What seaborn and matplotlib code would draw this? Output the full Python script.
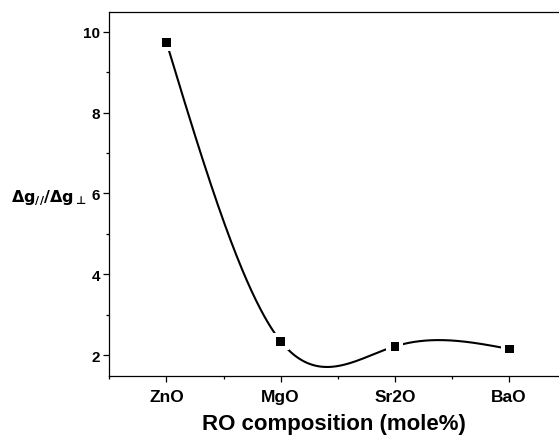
import numpy as np
import matplotlib
matplotlib.use("Agg")
import matplotlib.pyplot as plt
import seaborn as sns
from matplotlib.ticker import MultipleLocator

# data
compositions = ["ZnO", "MgO", "Sr2O", "BaO"]
g_ratio = [9.745, 2.34, 2.215, 2.15]


def natural_spline(x, y, n=300):
    # natural cubic spline through the points (like Origin's spline connect)
    x = np.asarray(x, float)
    y = np.asarray(y, float)
    k = len(x)
    h = np.diff(x)
    A = np.zeros((k, k))
    b = np.zeros(k)
    A[0, 0] = A[-1, -1] = 1
    for i in range(1, k - 1):
        A[i, i - 1] = h[i - 1]
        A[i, i] = 2 * (h[i - 1] + h[i])
        A[i, i + 1] = h[i]
        b[i] = 6 * ((y[i + 1] - y[i]) / h[i] - (y[i] - y[i - 1]) / h[i - 1])
    M = np.linalg.solve(A, b)
    xs = np.linspace(x[0], x[-1], n)
    idx = np.clip(np.searchsorted(x, xs) - 1, 0, k - 2)
    x0, x1 = x[idx], x[idx + 1]
    hh = x1 - x0
    ys = (M[idx] * (x1 - xs) ** 3 / (6 * hh) + M[idx + 1] * (xs - x0) ** 3 / (6 * hh)
          + (y[idx] - M[idx] * hh ** 2 / 6) * (x1 - xs) / hh
          + (y[idx + 1] - M[idx + 1] * hh ** 2 / 6) * (xs - x0) / hh)
    return xs, ys


sns.set_theme(style="ticks")
plt.rcParams['font.family'] = ['Liberation Sans', 'DejaVu Sans']
plt.rcParams['font.weight'] = 'bold'
plt.rcParams['text.color'] = 'black'
plt.rcParams['axes.labelcolor'] = 'black'
plt.rcParams['xtick.color'] = 'black'
plt.rcParams['ytick.color'] = 'black'
plt.rcParams['mathtext.fontset'] = 'dejavusans'

fig = plt.figure(figsize=(5.59, 4.39), dpi=100)
ax = fig.add_axes([0.1955, 0.1412, 0.8045, 0.8299])

pos = np.arange(1, len(compositions) + 1)
xs, ys = natural_spline(pos, g_ratio)

sns.lineplot(x=xs, y=ys, ax=ax, color="black", linewidth=1.5, sort=False)
# white halo so the curve stops short of each symbol
sns.scatterplot(x=pos, y=g_ratio, ax=ax, marker="s", s=150, color="white",
                edgecolor="none", zorder=3)
sns.scatterplot(x=pos, y=g_ratio, ax=ax, marker="s", s=40, color="black",
                edgecolor="none", zorder=4)

ax.set_xlim(0.5, 4.436)
ax.set_ylim(1.48, 10.5)
ax.set_xticks(pos)
ax.set_xticklabels(compositions, fontsize=12.5, fontweight="bold")
ax.xaxis.set_minor_locator(MultipleLocator(0.5))
ax.yaxis.set_major_locator(MultipleLocator(2))
ax.yaxis.set_minor_locator(MultipleLocator(1))
for lab in ax.get_yticklabels():
    lab.set_fontsize(11)
    lab.set_fontweight("bold")

ax.tick_params(axis="both", which="major", direction="out", length=4.5, width=0.9,
               color="black", pad=2)
ax.tick_params(axis="both", which="minor", direction="out", length=2.5, width=0.9,
               color="black")
ax.tick_params(axis="x", which="major", pad=5)

for side in ["left", "bottom", "top"]:
    ax.spines[side].set_visible(True)
    ax.spines[side].set_linewidth(0.9)
    ax.spines[side].set_color("black")
ax.spines["right"].set_visible(False)

ax.set_xlabel("RO composition (mole%)", fontsize=16, fontweight="bold", labelpad=6)
ax.set_ylabel(r"$\mathbf{\Delta g}_{\mathbf{//}}\mathbf{/\Delta g}_{\bot}$",
              fontsize=11.5, fontweight="normal", rotation=0, ha="right", va="center")
ax.yaxis.set_label_coords(-0.05, 0.49)

fig.savefig("out.png", dpi=100)
